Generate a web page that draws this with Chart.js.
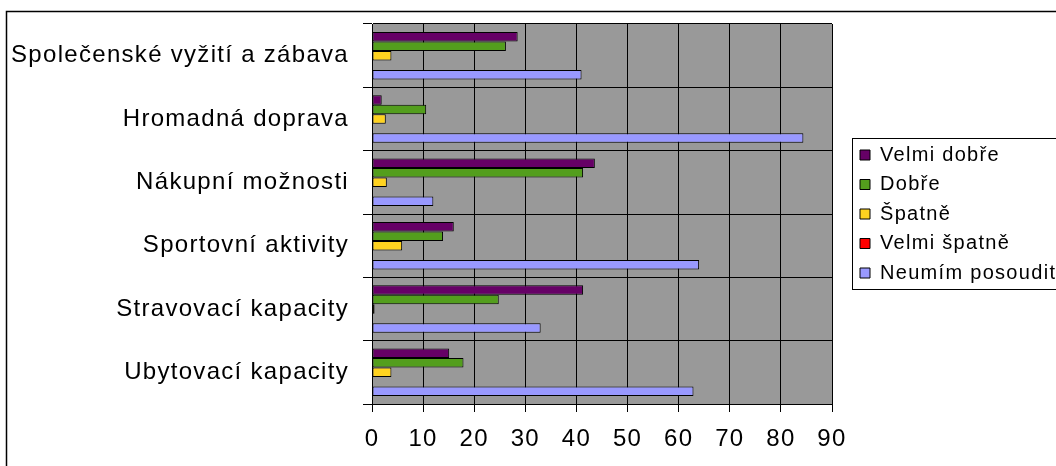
<!DOCTYPE html>
<html>
<head>
<meta charset="utf-8">
<title>Hodnocení služeb</title>
<script src="https://cdn.jsdelivr.net/npm/chart.js@4.4.1/dist/chart.umd.min.js"></script>
<style>
  html, body { margin: 0; padding: 0; background: #ffffff; overflow: hidden; width: 1056px; height: 466px; }
  canvas { display: block; }
</style>
</head>
<body>
<canvas id="chart" width="1056" height="466" style="width:1056px;height:466px"></canvas>
<script>
// Categories, top to bottom
const categories = [
  'Společenské vyžití a zábava',
  'Hromadná doprava',
  'Nákupní možnosti',
  'Sportovní aktivity',
  'Stravovací kapacity',
  'Ubytovací kapacity'
];

// Series names
const seriesNames = ['Velmi dobře', 'Dobře', 'Špatně', 'Velmi špatně', 'Neumím posoudit'];

// Series values (one per category)
const velmiDobre     = [28.5, 1.9, 43.6, 16.0, 41.3, 15.1];
const dobre          = [26.2, 10.6, 41.3, 13.9, 24.8, 17.9];
const spatne         = [3.8, 2.7, 2.9, 5.9, 0.5, 3.8];
const velmiSpatne    = [0, 0, 0, 0, 0, 0];
const neumimPosoudit = [41.0, 84.4, 12.0, 64.0, 33.0, 62.9];

// Value axis tick labels
const valueTicks = [0, 10, 20, 30, 40, 50, 60, 70, 80, 90];

const seriesValues = [velmiDobre, dobre, spatne, velmiSpatne, neumimPosoudit];
const seriesColors = ['#660066', '#539E1D', '#FFD320', '#FF0000', '#9999FF'];

const FONT = "'Liberation Sans', Arial, Helvetica, sans-serif";
const LETTER_SPACING = '1.3px';

// Slightly open letter spacing for all chart text
const textSpacing = {
  id: 'textSpacing',
  beforeLayout(chart) { chart.ctx.letterSpacing = LETTER_SPACING; },
  beforeDraw(chart) { chart.ctx.letterSpacing = LETTER_SPACING; }
};

// Outer chart frame and grey plot area
const backdrop = {
  id: 'backdrop',
  beforeDraw(chart) {
    const { ctx, chartArea: a } = chart;
    ctx.save();
    ctx.strokeStyle = '#000000';
    ctx.lineWidth = 1.5;
    ctx.strokeRect(6.5, 11.5, 1200, 600);
    ctx.fillStyle = '#999999';
    ctx.fillRect(a.left, a.top, a.right - a.left, a.bottom - a.top);
    ctx.restore();
  }
};

// Legend sits a little right of the plot and gets a frame
const legendFrame = {
  id: 'legendFrame',
  afterLayout(chart) {
    const lg = chart.legend;
    lg.left = chart.chartArea.right + 18.5;
    lg.width = 260;
    lg.right = lg.left + lg.width;
  },
  afterDraw(chart) {
    const lg = chart.legend;
    const boxes = lg.legendHitBoxes;
    if (!boxes || !boxes.length) return;
    const top = Math.min(...boxes.map(b => b.top)) - 7;
    const bottom = Math.max(...boxes.map(b => b.top + b.height)) + 6;
    const left = boxes[0].left - 8;
    const ctx = chart.ctx;
    ctx.save();
    ctx.strokeStyle = '#000000';
    ctx.lineWidth = 1;
    ctx.strokeRect(Math.round(left) + 0.5, Math.round(top) + 0.5, 300, Math.round(bottom - top));
    ctx.restore();
  }
};

new Chart(document.getElementById('chart'), {
  type: 'bar',
  data: {
    labels: categories,
    datasets: seriesNames.map((name, i) => ({
      label: name,
      data: seriesValues[i],
      backgroundColor: seriesColors[i],
      borderColor: '#000000',
      borderWidth: 1,
      borderSkipped: false,
      categoryPercentage: 0.75,
      barPercentage: 1.0
    }))
  },
  options: {
    indexAxis: 'y',
    responsive: false,
    animation: false,
    devicePixelRatio: 1,
    layout: { padding: { top: 24, bottom: 11, left: 0, right: 74 } },
    scales: {
      x: {
        min: 0,
        max: 90,
        afterBuildTicks(scale) { scale.ticks = valueTicks.map(v => ({ value: v })); },
        afterFit(scale) { scale.height = 51; },
        ticks: { color: '#000000', font: { family: FONT, size: 24 }, padding: 13 },
        grid: { color: '#000000', lineWidth: 1, tickLength: 8 },
        border: { color: '#000000', width: 1 }
      },
      y: {
        afterFit(scale) {
          scale.width = 372;
          scale.paddingTop = 0;
          scale.paddingBottom = 0;
        },
        ticks: { color: '#000000', font: { family: FONT, size: 24 }, padding: 14 },
        grid: { color: '#000000', lineWidth: 1, tickLength: 9, offset: true },
        border: { color: '#000000', width: 1 }
      }
    },
    plugins: {
      tooltip: { enabled: false },
      legend: {
        position: 'right',
        align: 'center',
        fullSize: false,
        maxWidth: 150,
        labels: {
          boxWidth: 10,
          boxHeight: 10,
          padding: 9.5,
          color: '#000000',
          font: { family: FONT, size: 20 }
        }
      }
    }
  },
  plugins: [textSpacing, backdrop, legendFrame]
});
</script>
</body>
</html>
